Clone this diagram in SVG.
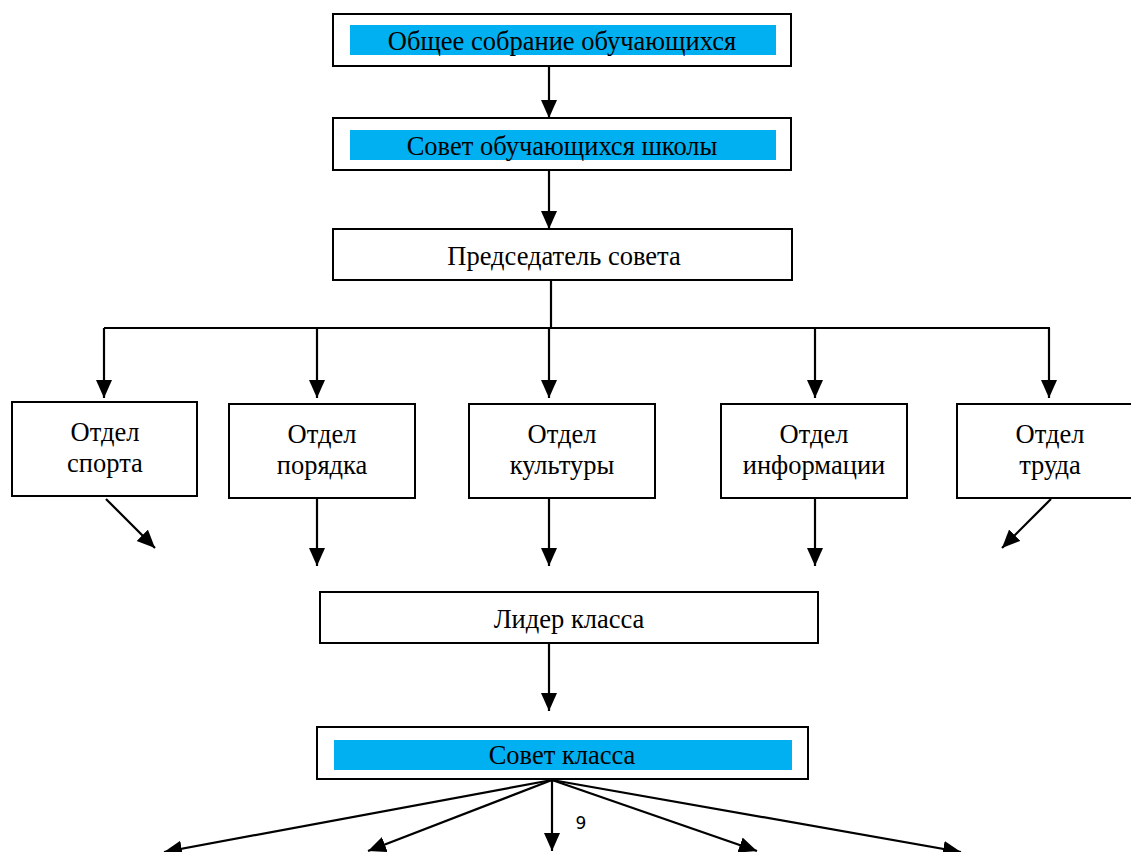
<svg xmlns="http://www.w3.org/2000/svg" width="1131" height="852" viewBox="0 0 1131 852">
<style>
.box{fill:#fff;stroke:#000;stroke-width:2}
.bar{fill:#00b0f0}
.t{font-family:"Liberation Serif","Times New Roman",serif;font-size:26.5px;fill:#000;text-anchor:middle}
.c{stroke:#000;stroke-width:2.2;fill:none}
.a{stroke:#000;stroke-width:2.2;fill:none;marker-end:url(#ah)}
</style>
<defs>
<marker id="ah" markerUnits="userSpaceOnUse" markerWidth="18" markerHeight="18" viewBox="0 0 18 18" refX="18" refY="8" orient="auto">
<path d="M0,0 L18,8 L0,16 Z" fill="#000"/>
</marker>
</defs>
<rect width="1131" height="852" fill="#fff"/>
<g id="connectors">
<line class="a" x1="549" y1="66" x2="549" y2="118"/>
<line class="a" x1="549" y1="170" x2="549" y2="229"/>
<polyline class="c" points="551,280 551,328"/>
<line class="c" x1="104" y1="328" x2="1050" y2="328"/>
<line class="a" x1="104" y1="328" x2="104" y2="398"/>
<line class="a" x1="317" y1="328" x2="317" y2="398"/>
<line class="a" x1="549" y1="328" x2="549" y2="398"/>
<line class="a" x1="815" y1="328" x2="815" y2="398"/>
<line class="a" x1="1049" y1="328" x2="1049" y2="398"/>
<line class="a" x1="106" y1="499" x2="155" y2="548"/>
<line class="a" x1="317" y1="498" x2="317" y2="566"/>
<line class="a" x1="549" y1="498" x2="549" y2="566"/>
<line class="a" x1="815" y1="498" x2="815" y2="566"/>
<line class="a" x1="1051" y1="499" x2="1002" y2="548"/>
<line class="a" x1="549" y1="643" x2="549" y2="711"/>
<line class="a" x1="552" y1="780" x2="164" y2="852"/>
<line class="a" x1="552" y1="780" x2="368" y2="851"/>
<line class="a" x1="552" y1="780" x2="552" y2="851"/>
<line class="a" x1="552" y1="780" x2="757" y2="851"/>
<line class="a" x1="552" y1="780" x2="961" y2="852"/>
</g>
<g id="n-general">
<rect class="box" x="333" y="14" width="458" height="52"/>
<rect class="bar" x="350" y="25" width="426" height="30"/>
<text class="t" x="562" y="50">Общее собрание обучающихся</text>
</g>
<g id="n-council">
<rect class="box" x="333" y="118" width="458" height="52"/>
<rect class="bar" x="350" y="130" width="426" height="30"/>
<text class="t" x="562" y="155">Совет обучающихся школы</text>
</g>
<g id="n-chair">
<rect class="box" x="333" y="229" width="459" height="51"/>
<text class="t" x="564" y="265">Председатель совета</text>
</g>
<g id="n-sport">
<rect class="box" x="12" y="402" width="185" height="94"/>
<text class="t" x="105" y="441">Отдел</text>
<text class="t" x="105" y="472">спорта</text>
</g>
<g id="n-order">
<rect class="box" x="229" y="404" width="186" height="94"/>
<text class="t" x="322" y="443">Отдел</text>
<text class="t" x="322" y="474">порядка</text>
</g>
<g id="n-culture">
<rect class="box" x="469" y="404" width="186" height="94"/>
<text class="t" x="562" y="443">Отдел</text>
<text class="t" x="562" y="474">культуры</text>
</g>
<g id="n-info">
<rect class="box" x="721" y="404" width="186" height="94"/>
<text class="t" x="814" y="443">Отдел</text>
<text class="t" x="814" y="474">информации</text>
</g>
<g id="n-labor">
<rect class="box" x="957" y="404" width="186" height="94"/>
<text class="t" x="1050" y="443">Отдел</text>
<text class="t" x="1050" y="474">труда</text>
</g>
<g id="n-leader">
<rect class="box" x="320" y="592" width="498" height="51"/>
<text class="t" x="569" y="628">Лидер класса</text>
</g>
<g id="n-class">
<rect class="box" x="317" y="727" width="491" height="52"/>
<rect class="bar" x="334" y="740" width="458" height="30"/>
<text class="t" x="562" y="764">Совет класса</text>
</g>
<text x="581" y="829" style="font-family:'DejaVu Sans','Liberation Sans',sans-serif;font-size:17px;fill:#000;text-anchor:middle">9</text>
</svg>
